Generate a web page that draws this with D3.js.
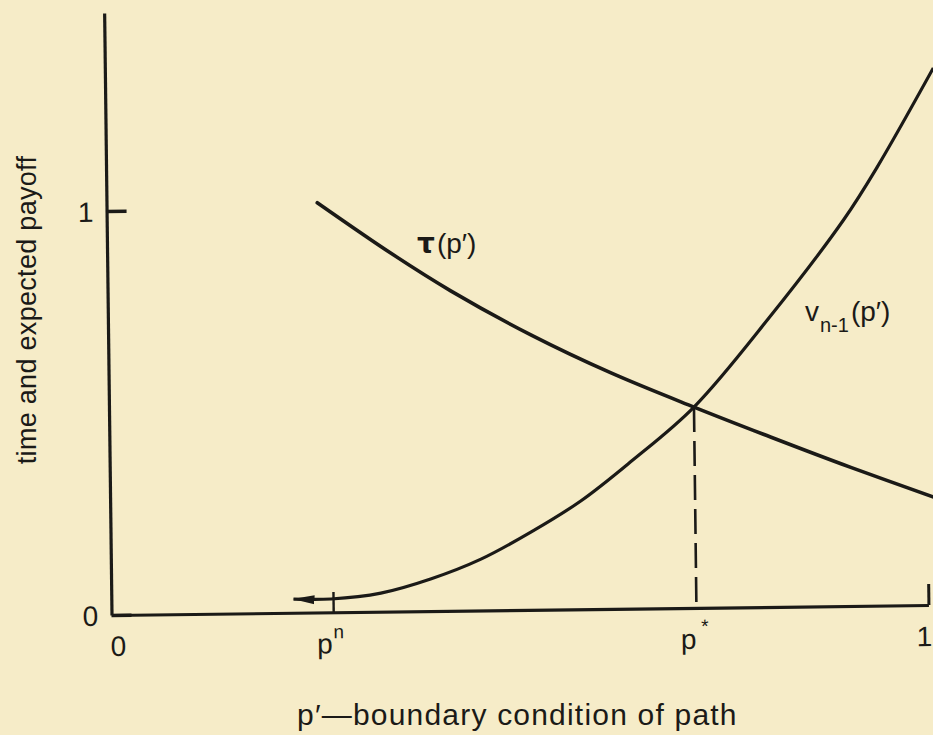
<!DOCTYPE html>
<html>
<head>
<meta charset="utf-8">
<script src="https://cdn.jsdelivr.net/npm/d3@7"></script>
<style>
  html, body { margin: 0; padding: 0; background: #f6ecc8; }
  svg { display: block; }
  text { font-family: "Liberation Sans", Arial, Helvetica, sans-serif; fill: #1b1a17; }
</style>
</head>
<body>
<svg id="chart" width="933" height="735"></svg>
<script>
// Expected time τ(p') as a function of the boundary condition p'
const tauP      = [0.258, 0.348, 0.420, 0.518, 0.615, 0.716, 0.810, 0.907, 1.008];
const tauValues = [1.014, 0.886, 0.792, 0.680, 0.584, 0.497, 0.420, 0.343, 0.267];

// Expected payoff v_{n-1}(p'); the first point is the arrow tip
const payoffP      = [0.223, 0.269, 0.330, 0.392, 0.453, 0.515, 0.576, 0.638, 0.716, 0.809, 0.902, 0.944, 1.014];
const payoffValues = [0.034, 0.033, 0.046, 0.080, 0.127, 0.193, 0.268, 0.364, 0.497, 0.715, 0.956, 1.086, 1.329];

// Marked boundary conditions and the crossing value
const pN = 0.272;
const pStar = 0.716;
const crossValue = 0.497;

// Axis ticks
const yTickValues = [0, 1];
const yTickLabels = ["0", "1"];
const xTickValues = [0, 1];
const xTickLabels = ["0", "1"];
const yTop = 1.49;

const ink = "#1b1a17";
const svg = d3.select("#chart");

svg.append("rect").attr("width", 933).attr("height", 735).attr("fill", "#f6ecc8");

const x = d3.scaleLinear().domain([0, 1]).range([0, 817]);
const y = d3.scaleLinear().domain([0, yTop]).range([0, -602]);

// plot area, tilted slightly as printed
const plot = svg.append("g").attr("transform", "translate(111.5,615) rotate(-0.7)");

// arrowhead for the left end of the payoff curve
svg.append("defs").append("marker")
  .attr("id", "arrow")
  .attr("viewBox", "0 0 22 10")
  .attr("refX", 21).attr("refY", 5)
  .attr("markerWidth", 22).attr("markerHeight", 10)
  .attr("markerUnits", "userSpaceOnUse")
  .attr("orient", "auto-start-reverse")
  .append("path").attr("d", "M0,0.5 L22,5 L0,9.5 Z").attr("fill", ink);

// y axis
const yAxis = plot.append("g")
  .call(d3.axisLeft(y).tickValues(yTickValues).tickSizeInner(-20).tickSizeOuter(0)
    .tickFormat((d, i) => yTickLabels[i]));
yAxis.select(".domain").attr("stroke", ink).attr("stroke-width", 3.2);
yAxis.selectAll(".tick line").attr("stroke", ink).attr("stroke-width", 3.4);
yAxis.selectAll(".tick text")
  .attr("x", -21).attr("text-anchor", "middle").attr("dy", "0.36em")
  .attr("font-size", 28).attr("fill", ink);

// x axis
const xAxis = plot.append("g")
  .call(d3.axisBottom(x).tickValues(xTickValues).tickSizeInner(-21).tickSizeOuter(0)
    .tickFormat((d, i) => xTickLabels[i]));
xAxis.select(".domain").attr("stroke", ink).attr("stroke-width", 3.2);
xAxis.selectAll(".tick line").attr("stroke", ink).attr("stroke-width", 3);
xAxis.selectAll(".tick text")
  .attr("y", 41).attr("dy", 0).attr("text-anchor", "middle")
  .attr("font-size", 28).attr("fill", ink);
xAxis.selectAll(".tick").filter(d => d === 0).select("text").attr("dx", 6);
xAxis.selectAll(".tick").filter(d => d === 0).select("line").remove();
xAxis.selectAll(".tick").filter(d => d === 1).select("text")
  .attr("text-anchor", "end").attr("dx", 3);

// p^n tick and label
plot.append("line")
  .attr("x1", x(pN)).attr("x2", x(pN))
  .attr("y1", y(-0.003)).attr("y2", y(0.05))
  .attr("stroke", ink).attr("stroke-width", 2.4);
const pnText = plot.append("text")
  .attr("x", x(pN) - 17).attr("y", 41).attr("font-size", 28);
pnText.append("tspan").text("p");
pnText.append("tspan").attr("dy", -15).attr("dx", 1).attr("font-size", 19).text("n");

// p* label
const psText = plot.append("text")
  .attr("x", x(pStar) - 16).attr("y", 41).attr("font-size", 28);
psText.append("tspan").text("p");
psText.append("tspan").attr("dy", -16).attr("dx", 5).attr("font-size", 19).text("*");

// dashed drop from the crossing to the axis
plot.append("line")
  .attr("x1", x(pStar)).attr("x2", x(pStar))
  .attr("y1", y(crossValue)).attr("y2", y(0))
  .attr("stroke", ink).attr("stroke-width", 2.6)
  .attr("stroke-dasharray", "25,9");

const line = d3.line().x(d => x(d[0])).y(d => y(d[1])).curve(d3.curveCatmullRom.alpha(0.5));

// τ(p')
plot.append("path")
  .datum(d3.zip(tauP, tauValues))
  .attr("d", line)
  .attr("fill", "none").attr("stroke", ink).attr("stroke-width", 3.6)
  .attr("stroke-linecap", "round");

// v_{n-1}(p')
plot.append("path")
  .datum(d3.zip(payoffP, payoffValues))
  .attr("d", line)
  .attr("fill", "none").attr("stroke", ink).attr("stroke-width", 3.2)
  .attr("marker-start", "url(#arrow)");

// curve labels
const tauLabel = svg.append("text").attr("x", 417).attr("y", 253).attr("font-size", 28);
tauLabel.append("tspan").attr("font-family", "'DejaVu Sans', sans-serif").attr("font-weight", "bold").text("τ");
tauLabel.append("tspan").attr("dx", 2).text("(p′)");

const vLabel = svg.append("text").attr("x", 805).attr("y", 321).attr("font-size", 28);
vLabel.append("tspan").text("v");
vLabel.append("tspan").attr("dy", 11).attr("dx", 1).attr("font-size", 20).text("n-1");
vLabel.append("tspan").attr("dy", -11).attr("dx", 2).text("(p′)");

// axis titles
svg.append("text")
  .attr("transform", "translate(36,310) rotate(-90)")
  .attr("text-anchor", "middle")
  .attr("font-size", 27)
  .attr("letter-spacing", 0.3)
  .text("time and expected payoff");

svg.append("text")
  .attr("x", 297).attr("y", 725)
  .attr("font-size", 30)
  .attr("letter-spacing", 1.2)
  .text("p′—boundary condition of path");
</script>
</body>
</html>
